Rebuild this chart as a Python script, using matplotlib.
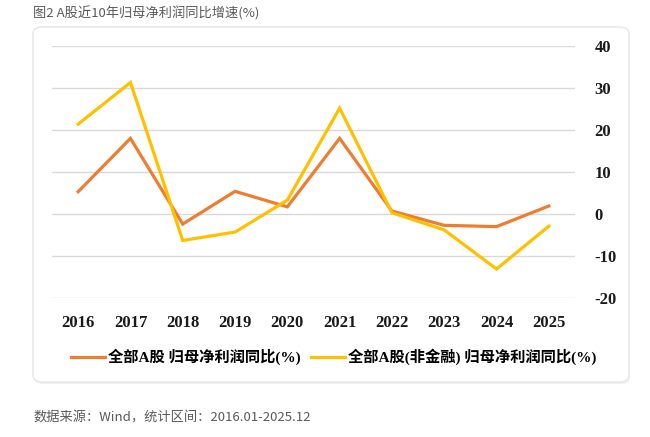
import matplotlib.pyplot as plt
from matplotlib.patches import FancyBboxPatch
from matplotlib.lines import Line2D

plt.rcParams["axes.unicode_minus"] = False

# ── Data ──────────────────────────────────────────────────────────────
years       = ["2016", "2017", "2018", "2019", "2020",
               "2021", "2022", "2023", "2024", "2025"]
all_a       = [5.3, 18.0, -2.4, 5.4, 1.7, 18.0, 0.7, -2.7, -3.0, 1.9]
all_a_nonfin = [21.4, 31.3, -6.3, -4.3, 3.3, 25.2, 0.3, -3.8, -13.1, -2.9]
y_ticks     = [-20, -10, 0, 10, 20, 30, 40]

label_all    = "全部A股 归母净利润同比(%)"
label_nonfin = "全部A股(非金融) 归母净利润同比(%)"
title_text   = "图2 A股近10年归母净利润同比增速(%)"
source_text  = "数据来源：Wind，统计区间：2016.01-2025.12"

ORANGE = "#ED7D31"
YELLOW = "#FFC000"
serif_cjk = ["Liberation Serif", "Noto Sans CJK SC"]
sans_cjk  = ["Noto Sans CJK SC", "DejaVu Sans"]

W, H = 650, 437
fig = plt.figure(figsize=(W / 100, H / 100), dpi=100)
fig.patch.set_facecolor("white")

# ── Card background ───────────────────────────────────────────────────
cx0, cy0, cx1, cy1 = 33, 27, 629, 382
card = FancyBboxPatch((cx0 / W, 1 - cy1 / H), (cx1 - cx0) / W, (cy1 - cy0) / H,
                      boxstyle="round,pad=0,rounding_size=0.015",
                      transform=fig.transFigure, facecolor="white",
                      edgecolor="#e6e6e6", linewidth=1.0, zorder=-1)
shadow = FancyBboxPatch(((cx0 + 1) / W, 1 - (cy1 + 2) / H), (cx1 - cx0) / W, (cy1 - cy0) / H,
                        boxstyle="round,pad=0,rounding_size=0.015",
                        transform=fig.transFigure, facecolor="#f0f0f0",
                        edgecolor="none", zorder=-2)
fig.patches.extend([shadow, card])

# ── Axes ──────────────────────────────────────────────────────────────
left, right = 52 / W, 575 / W
bottom, top = 1 - 298 / H, 1 - 46 / H
ax = fig.add_axes([left, bottom, right - left, top - bottom])
ax.set_zorder(1)
ax.patch.set_alpha(0)

x = list(range(len(years)))
ax.plot(x, all_a, color=ORANGE, linewidth=2.3, zorder=3, solid_joinstyle="miter")
ax.plot(x, all_a_nonfin, color=YELLOW, linewidth=2.3, zorder=3, solid_joinstyle="miter")

ax.set_xlim(-0.5, len(years) - 0.5)
ax.set_ylim(-20, 40)
ax.set_yticks(y_ticks)
ax.yaxis.tick_right()
ax.grid(axis="y", color="#d9d9d9", linewidth=1.0)
ax.set_axisbelow(True)
for s in ax.spines.values():
    s.set_visible(False)
ax.tick_params(length=0)
ax.tick_params(axis="y", pad=14)
ax.tick_params(axis="x", pad=12)
ax.set_xticks(x)
ax.set_xticklabels(years)
for lab in ax.get_xticklabels() + ax.get_yticklabels():
    lab.set_fontfamily("Liberation Serif")
    lab.set_fontweight("bold")
    lab.set_fontsize(12)
    lab.set_color("#1a1a1a")
for lab in ax.get_yticklabels():
    lab.set_horizontalalignment("left")

# ── Legend ────────────────────────────────────────────────────────────
handles = [Line2D([0], [0], color=ORANGE, linewidth=2.3),
           Line2D([0], [0], color=YELLOW, linewidth=2.3)]
fig.legend(handles, [label_all, label_nonfin], loc="center",
           bbox_to_anchor=(0.513, 1 - 357 / H), ncol=2, frameon=False,
           handlelength=2.2, handletextpad=0.2, columnspacing=0.7,
           prop={"family": serif_cjk, "weight": "bold", "size": 11})

# ── Title & source ───────────────────────────────────────────────────
fig.text(33 / W, 1 - 13 / H, title_text, family=sans_cjk, fontsize=9.5,
         color="#595959", ha="left", va="center")
fig.text(33 / W, 1 - 418 / H, source_text, family=sans_cjk, fontsize=9.5,
         color="#595959", ha="left", va="center")

fig.savefig("out.png", dpi=100, facecolor="white")
